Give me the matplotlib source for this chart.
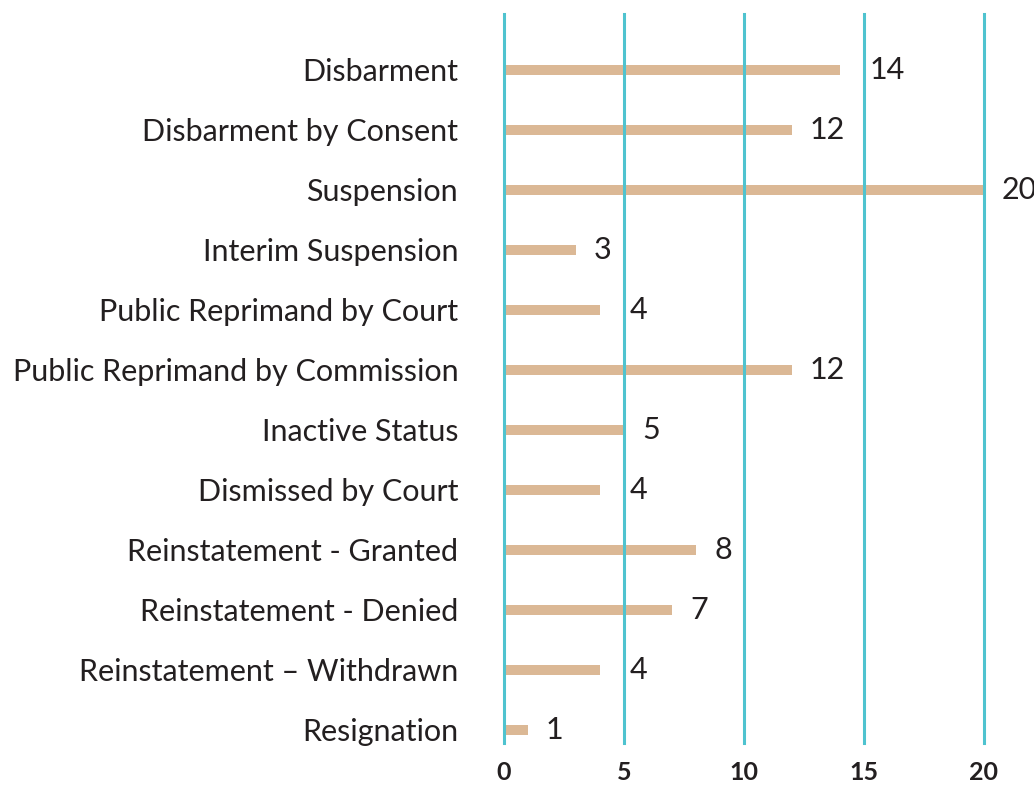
import matplotlib.pyplot as plt
import numpy as np

categories = ['Disbarment', 'Disbarment by Consent', 'Suspension', 'Interim Suspension',
              'Public Reprimand by Court', 'Public Reprimand by Commission', 'Inactive Status',
              'Dismissed by Court', 'Reinstatement - Granted', 'Reinstatement - Denied',
              'Reinstatement \u2013 Withdrawn', 'Resignation']
values = [14, 12, 20, 3, 4, 12, 5, 4, 8, 7, 4, 1]
ticks = [0, 5, 10, 15, 20]

plt.rcParams['font.family'] = ['Lato', 'DejaVu Sans']

fig = plt.figure(figsize=(10.34, 7.85), dpi=100)
ax = fig.add_axes([504 / 1034, 1 - 743 / 785, 480 / 1034, (743 - 14) / 785])

y = np.arange(len(categories))
ax.barh(y, values, height=0.17, color='#DBB895', zorder=1)
for v in ticks:
    ax.axvline(v, color='#4FC3CF', linewidth=2.2, zorder=2, clip_on=False)

# value labels: keep them off the gridlines
for yi, v in zip(y, values):
    x = v + 0.75
    for t in ticks:
        if x - 0.2 <= t <= x + 0.3:
            x = t + 0.25
    ax.text(x, yi, str(v), ha='left', va='center', fontsize=22, color='#231F20')

ax.set_xlim(0, 20)
ax.set_ylim(11.22, -0.93)
ax.set_yticks(y)
ax.set_yticklabels(categories, fontsize=22, color='#231F20')
ax.set_xticks(ticks)
ax.set_xticklabels([str(t) for t in ticks], fontsize=18, fontweight='bold', color='#231F20')
ax.tick_params(axis='y', length=0, pad=33)
ax.tick_params(axis='x', length=0, pad=13)
for s in ax.spines.values():
    s.set_visible(False)

fig.savefig('out.png', dpi=100)
